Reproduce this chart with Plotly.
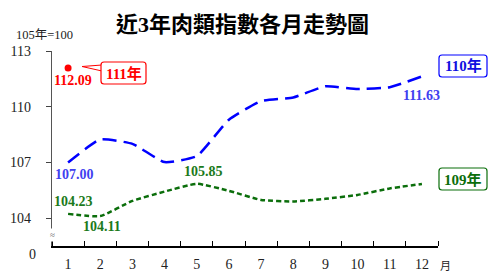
import plotly.graph_objects as go

months = list(range(1, 13))
month_labels = [str(m) for m in months]
y110 = [107.00, 108.24, 108.00, 107.02, 107.34, 109.30, 110.30, 110.50, 111.10, 110.95, 111.05, 111.63]
y109 = [104.23, 104.11, 104.93, 105.43, 105.85, 105.47, 104.98, 104.90, 105.04, 105.25, 105.60, 105.84]
y111 = [112.09]
ytick_vals = [104, 107, 110, 113]
title_text = "近3年肉類指數各月走勢圖"
base_text = "105年=100"

W, H = 488, 273
ML, MR, MT, MB = 52, 50, 51, 27
PW, PH = W - ML - MR, H - MT - MB

def px(x):
    return (x - ML) / PW

def py(y):
    return (H - MB - y) / PH

BLUE = "#0000FF"
BLUE_T = "#4040F0"
GREEN = "#0B6E0B"
GREEN_T = "#1B7A1B"
RED = "#FF0000"
SERIF = "Liberation Serif, Times New Roman, Noto Sans CJK TC, serif"

fig = go.Figure()
fig.add_trace(go.Scatter(x=months, y=y110, mode="lines",
                         line=dict(color=BLUE, width=2.5, dash="14px,7px", shape="spline", smoothing=0.45),
                         showlegend=False, hoverinfo="skip"))
fig.add_trace(go.Scatter(x=months, y=y109, mode="lines",
                         line=dict(color=GREEN, width=2.5, dash="5px,3px", shape="spline", smoothing=0.45),
                         showlegend=False, hoverinfo="skip"))
fig.add_trace(go.Scatter(x=months[:1], y=y111, mode="markers",
                         marker=dict(color=RED, size=7),
                         showlegend=False, hoverinfo="skip"))

ann = []
lab = dict(size=14, family=SERIF)

def dlabel(x, y, color, xs, ys):
    ann.append(dict(x=x, y=y, xref="x", yref="y", text="<b>%.2f</b>" % y, showarrow=False,
                    font=dict(lab, color=color), xshift=xs, yshift=ys))

dlabel(1, y111[0], RED, 5, -13)
dlabel(1, y110[0], BLUE_T, 6, -12)
dlabel(12, y110[11], BLUE_T, 0, -19)
dlabel(1, y109[0], GREEN_T, 5, 12)
dlabel(2, y109[1], GREEN_T, 2, -10)
dlabel(5, y109[4], GREEN_T, 7, 12)

# title and notes
ann.append(dict(x=px(242.5), y=py(24), xref="paper", yref="paper", text="<b>" + title_text + "</b>",
                showarrow=False, font=dict(size=22, color="black", family="Liberation Serif, Noto Sans CJK TC"),
                xanchor="center", yanchor="middle"))
ann.append(dict(x=px(44), y=py(35), xref="paper", yref="paper", text=base_text, showarrow=False,
                font=dict(size=12.5, color="#222", family=SERIF), xanchor="center", yanchor="middle"))
ann.append(dict(x=px(32), y=py(254), xref="paper", yref="paper", text="0", showarrow=False,
                font=dict(size=14, color="#222", family=SERIF), xanchor="center", yanchor="middle"))
ann.append(dict(x=px(445), y=py(265), xref="paper", yref="paper", text="月", showarrow=False,
                font=dict(size=11, color="#222", family="Noto Sans CJK TC"), xanchor="center", yanchor="middle"))
ann.append(dict(x=px(52), y=py(235), xref="paper", yref="paper", text="≈", showarrow=False,
                font=dict(size=9, color="#666", family=SERIF), bgcolor="white",
                xanchor="center", yanchor="middle", borderpad=1))

shapes = []

def rbox(x0, y0, x1, y1, color, r=3):
    X0, X1 = px(x0), px(x1)
    Y0, Y1 = py(y0), py(y1)
    rx, ry = r / PW, r / PH
    path = (f"M {X0+rx},{Y0} L {X1-rx},{Y0} Q {X1},{Y0} {X1},{Y0-ry} "
            f"L {X1},{Y1+ry} Q {X1},{Y1} {X1-rx},{Y1} L {X0+rx},{Y1} Q {X0},{Y1} {X0},{Y1+ry} "
            f"L {X0},{Y0-ry} Q {X0},{Y0} {X0+rx},{Y0} Z")
    shapes.append(dict(type="path", xref="paper", yref="paper", path=path,
                       line=dict(color=color, width=1.2), fillcolor="white", layer="above"))

def boxlabel(cx, cy, text, color):
    ann.append(dict(x=px(cx), y=py(cy), xref="paper", yref="paper", text="<b>" + text + "</b>",
                    showarrow=False, font=dict(size=15, color=color, family=SERIF),
                    xanchor="center", yanchor="middle"))

# 111 callout pointer
shapes.append(dict(type="path", xref="paper", yref="paper",
                   path=f"M {px(82)},{py(66.5)} L {px(102)},{py(65)} L {px(102)},{py(71)} Z",
                   line=dict(color=RED, width=1), fillcolor="white", layer="above"))
rbox(101, 62, 146, 84, RED)
boxlabel(123.5, 73, "111年", RED)
rbox(439, 55, 487, 77, BLUE)
boxlabel(463, 66, "110年", "#1010E0")
rbox(439, 168, 487, 190, GREEN)
boxlabel(463, 179, "109年", GREEN)

fig.update_layout(
    width=W, height=H, margin=dict(l=ML, r=MR, t=MT, b=MB, autoexpand=False),
    paper_bgcolor="white", plot_bgcolor="white",
    annotations=ann, shapes=shapes,
    xaxis=dict(range=[0.5, 12.5], tickmode="array", tickvals=months, ticktext=month_labels,
               ticks="", showgrid=False, zeroline=False, showline=True, linecolor="black", linewidth=1.5,
               automargin=False,
               tickfont=dict(size=14, color="#222", family=SERIF), ticklabelstandoff=4,
               minor=dict(tickmode="linear", tick0=0.5, dtick=1, ticks="inside", ticklen=5,
                          tickcolor="black", tickwidth=1, showgrid=False)),
    yaxis=dict(range=[102.5, 113], tickmode="array", tickvals=ytick_vals,
               ticks="outside", ticklen=5, tickcolor="#444", showgrid=False, zeroline=False,
               showline=True, linecolor="#555", linewidth=1.2, automargin=False,
               tickfont=dict(size=14, color="#222", family=SERIF), ticklabelstandoff=12),
)

fig.write_html("out.html", config={"displayModeBar": False},
               post_script="document.body.style.margin='0';document.body.style.overflow='hidden';")
